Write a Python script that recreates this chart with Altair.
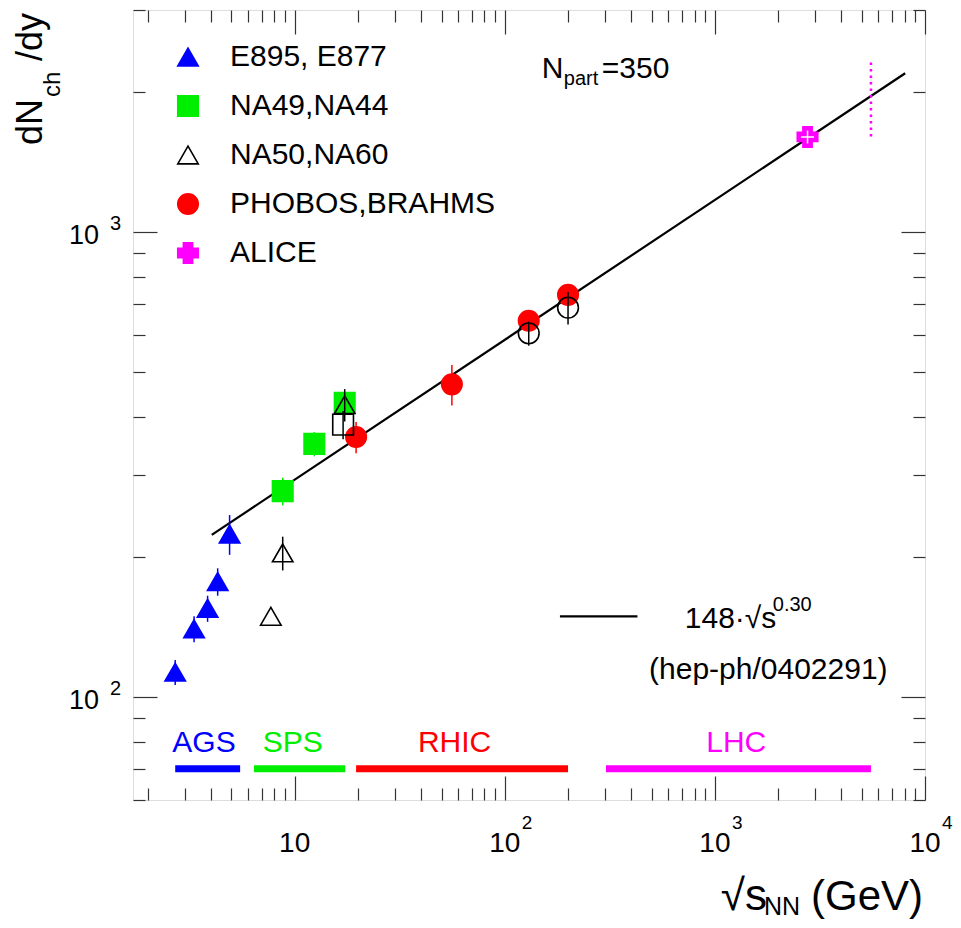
import altair as alt
import pandas as pd

W, H = 792, 790
FONT = "Liberation Sans"

# E895, E877 (AGS)
AGS_X = [2.7, 3.32, 3.85, 4.3, 4.9]
AGS_Y = [113, 140, 155, 177, 224]
AGS_ERR = [7, 9, 10, 12, 22]
# NA49, NA44 (SPS)
SPS_X = [8.77, 12.4, 17.3]
SPS_Y = [277, 350, 429]
SPS_ERR = [19, 21, 15]
# NA50, NA60 (open triangles)
NA50_X = [7.7, 8.77, 17.3]
NA50_Y = [149, 204, 425]
NA50_ERR = [0, 17, 34]
# PHOBOS, BRAHMS (RHIC)
RHIC_X = [19.6, 56, 130, 200]
RHIC_Y = [362, 470, 644, 732]
RHIC_ERR = [28, 47, 30, 40]
# ALICE
ALICE_X = [2760]
ALICE_Y = [1600]
ALICE_ERR = [0]
# unlabelled open markers
OPEN_SQ_X = [17.0]
OPEN_SQ_Y = [385]
OPEN_SQ_ERR = [27]
OPEN_CIRC_X = [130, 200]
OPEN_CIRC_Y = [605, 687]
OPEN_CIRC_ERR = [36, 55]

# 148 * sqrt(s)^0.30 line, end points
FIT_X = [4.03, 8050]
FIT_Y = [223, 2193]
# dotted LHC design-energy marker
LHC_MARK_X = [5530]
LHC_MARK_LO = [1603]
LHC_MARK_HI = [2352]

REGION_NAMES = ["AGS", "SPS", "RHIC", "LHC"]
REGION_LO = [2.7, 6.4, 19.6, 303]
REGION_HI = [5.5, 17.4, 200, 5530]
REGION_Y = [70, 70, 70, 70]
REGION_LABEL_X = [3.7, 9.8, 57.7, 1263]
REGION_LABEL_Y = [76, 76, 76, 76]
REGION_COLORS = ["#0000ff", "#00ee00", "#ff0000", "#ff00ff"]

X_TICKS = [2, 3, 4, 5, 6, 7, 8, 9, 10, 20, 30, 40, 50, 60, 70, 80, 90,
           100, 200, 300, 400, 500, 600, 700, 800, 900,
           1000, 2000, 3000, 4000, 5000, 6000, 7000, 8000, 9000, 10000]
Y_TICKS = [60, 70, 80, 90, 100, 200, 300, 400, 500, 600, 700, 800, 900,
           1000, 2000, 3000]
X_LABEL_AT = [10, 100, 1000, 10000]
X_LABEL_EXP = ["", "2", "3", "4"]
Y_LABEL_AT = [100, 1000]
Y_LABEL_EXP = ["2", "3"]

SERIES = ["E895, E877", "NA49,NA44", "NA50,NA60", "PHOBOS,BRAHMS", "ALICE"]
CROSS = "M-0.45,-1H0.45V-0.45H1V0.45H0.45V1H-0.45V0.45H-1V-0.45H-0.45Z"
SHAPES = ["triangle-up", "square", "triangle-up", "circle", CROSS]
FILLS = ["#0000ff", "#00ee00", "transparent", "#ff0000", "#ff00ff"]
STROKES = ["#0000ff", "#00ee00", "black", "#ff0000", "#ff00ff"]
SIZES = [420, 420, 450, 420, 700]


def _rows(name, xs, ys, errs, color):
    return pd.DataFrame({
        "series": name, "x": xs, "y": ys,
        "lo": [y - e for y, e in zip(ys, errs)],
        "hi": [y + e for y, e in zip(ys, errs)],
        "ecolor": color,
    })


points = pd.concat([
    _rows(SERIES[0], AGS_X, AGS_Y, AGS_ERR, STROKES[0]),
    _rows(SERIES[1], SPS_X, SPS_Y, SPS_ERR, STROKES[1]),
    _rows(SERIES[2], NA50_X, NA50_Y, NA50_ERR, STROKES[2]),
    _rows(SERIES[3], RHIC_X, RHIC_Y, RHIC_ERR, STROKES[3]),
    _rows(SERIES[4], ALICE_X, ALICE_Y, ALICE_ERR, STROKES[4]),
], ignore_index=True)

extras = pd.concat([
    _rows("square", OPEN_SQ_X, OPEN_SQ_Y, OPEN_SQ_ERR, "black"),
    _rows("circle", OPEN_CIRC_X, OPEN_CIRC_Y, OPEN_CIRC_ERR, "black"),
], ignore_index=True).rename(columns={"series": "kind"})

MAJOR = "abs(log(datum.value) / LN10 - round(log(datum.value) / LN10)) < 0.001"
X_SCALE = alt.Scale(type="log", domain=[1.7, 10000], nice=False)
Y_SCALE = alt.Scale(type="log", domain=[60, 3000], nice=False)


def frame_axis(orient, values):
    # ROOT-like inward ticks: the axis is pushed across the plot by a negative offset
    across = H if orient in ("top", "bottom") else W
    return alt.Axis(
        orient=orient, offset=-across, values=values, labels=False,
        domain=False, grid=False, title=None, tickColor="#333",
        tickWidth=1.2,
        tickSize={"condition": {"test": MAJOR, "value": 24}, "value": 12},
    )


NOAX_X = dict(scale=X_SCALE, axis=None)
NOAX_Y = dict(scale=Y_SCALE, axis=None)

fit = alt.Chart(pd.DataFrame({"x": FIT_X, "y": FIT_Y})).mark_line(
    color="black", strokeWidth=2.2
).encode(
    x=alt.X("x:Q", scale=X_SCALE, axis=frame_axis("bottom", X_TICKS)),
    y=alt.Y("y:Q", scale=Y_SCALE, axis=frame_axis("left", Y_TICKS)),
)

lhc_mark = alt.Chart(pd.DataFrame({
    "x": LHC_MARK_X, "lo": LHC_MARK_LO, "hi": LHC_MARK_HI,
})).mark_rule(color="#ff00ff", strokeWidth=2.5, strokeDash=[2.5, 4]).encode(
    x=alt.X("x:Q", **NOAX_X), y=alt.Y("lo:Q", **NOAX_Y), y2="hi:Q",
)

regions = pd.DataFrame({
    "name": REGION_NAMES, "lo": REGION_LO, "hi": REGION_HI, "y": REGION_Y,
    "lx": REGION_LABEL_X, "ly": REGION_LABEL_Y, "color": REGION_COLORS,
})
region_bars = alt.Chart(regions).mark_rule(strokeWidth=7, strokeCap="butt").encode(
    x=alt.X("lo:Q", **NOAX_X), x2="hi:Q", y=alt.Y("y:Q", **NOAX_Y),
    color=alt.Color("color:N", scale=None),
)
region_text = alt.Chart(regions).mark_text(
    fontSize=30, align="center", baseline="alphabetic", font=FONT
).encode(
    x=alt.X("lx:Q", **NOAX_X), y=alt.Y("ly:Q", **NOAX_Y), text="name:N",
    color=alt.Color("color:N", scale=None),
)

# one legend shared by shape, fill, stroke and size (all keyed on series)
legend = alt.Legend(
    title=None, orient="none", legendX=40, legendY=32, padding=0,
    labelFont=FONT, labelFontSize=30, labelColor="black", labelOffset=27,
    labelLimit=400, rowPadding=19, symbolStrokeWidth=1.6, symbolOpacity=1,
)
markers = alt.Chart(points).mark_point(opacity=1, strokeWidth=1.6).encode(
    x=alt.X("x:Q", scale=X_SCALE, axis=frame_axis("top", X_TICKS)),
    y=alt.Y("y:Q", scale=Y_SCALE, axis=frame_axis("right", Y_TICKS)),
    shape=alt.Shape("series:N", scale=alt.Scale(domain=SERIES, range=SHAPES), legend=legend),
    fill=alt.Fill("series:N", scale=alt.Scale(domain=SERIES, range=FILLS), legend=legend),
    stroke=alt.Stroke("series:N", scale=alt.Scale(domain=SERIES, range=STROKES), legend=legend),
    size=alt.Size("series:N", scale=alt.Scale(domain=SERIES, range=SIZES), legend=legend),
)
alice_inner = alt.Chart(points).transform_filter(
    alt.datum.series == "ALICE"
).mark_point(shape="M-1,0H1M0,-1V1", color="white", strokeWidth=1.5,
             size=170, opacity=1).encode(
    x=alt.X("x:Q", **NOAX_X), y=alt.Y("y:Q", **NOAX_Y),
)
open_extra = alt.Chart(extras).mark_point(
    color="black", strokeWidth=1.6, size=430, opacity=1
).encode(
    x=alt.X("x:Q", **NOAX_X), y=alt.Y("y:Q", **NOAX_Y),
    shape=alt.Shape("kind:N", scale=None),
)
error_rows = pd.concat([points[["x", "lo", "hi", "ecolor"]],
                        extras[["x", "lo", "hi", "ecolor"]]], ignore_index=True)
errors = alt.Chart(error_rows).mark_rule(strokeWidth=1.5).encode(
    x=alt.X("x:Q", **NOAX_X), y=alt.Y("lo:Q", **NOAX_Y), y2="hi:Q",
    color=alt.Color("ecolor:N", scale=None),
)

# formula key and annotations, placed in data coordinates
key_line = alt.Chart(pd.DataFrame({"x": [183, 428], "y": [149, 149]})).mark_line(
    color="black", strokeWidth=2.2
).encode(x=alt.X("x:Q", **NOAX_X), y=alt.Y("y:Q", **NOAX_Y))


def label(x, y, text, size, dx=0, dy=0, align="left"):
    return alt.Chart(pd.DataFrame({"x": [x], "y": [y], "t": [text]})).mark_text(
        fontSize=size, align=align, baseline="alphabetic", dx=dx, dy=dy,
        font=FONT, color="black",
    ).encode(x=alt.X("x:Q", **NOAX_X), y=alt.Y("y:Q", **NOAX_Y), text="t:N")


notes = [
    label(150, 2147, "N", 30),
    label(150, 2147, "part", 20, dx=22, dy=7),
    label(150, 2147, "=350", 30, dx=60),
    label(719, 140.5, "148·√s", 30),
    label(719, 140.5, "0.30", 20, dx=88, dy=-17),
    label(486, 109, "(hep-ph/0402291)", 30),
]


def pixel_text(x, y, text, size, align="left", angle=0):
    return alt.Chart(pd.DataFrame({"t": [text]})).mark_text(
        fontSize=size, align=align, baseline="alphabetic", angle=angle,
        font=FONT, color="black",
    ).encode(x=alt.value(x), y=alt.value(y), text="t:N")


titles = [
    pixel_text(-91, 135, "dN", 36, angle=270),
    pixel_text(-73, 87, "ch", 24, angle=270),
    pixel_text(-91, 51, "/dy", 36, angle=270),
    pixel_text(634, H + 110, "√s", 44, align="right"),
    pixel_text(667, H + 115, "NN", 25, align="right"),
    pixel_text(W - 2, H + 110, "(GeV)", 42, align="right"),
]

xlab = pd.DataFrame({"v": X_LABEL_AT, "e": X_LABEL_EXP})
x_base = alt.Chart(xlab).mark_text(
    fontSize=28, align="center", baseline="alphabetic", font=FONT, color="black"
).encode(x=alt.X("v:Q", **NOAX_X), y=alt.value(H + 52), text=alt.value("10"))
x_exp = alt.Chart(xlab).mark_text(
    fontSize=19, align="left", baseline="alphabetic", dx=17, font=FONT, color="black"
).encode(x=alt.X("v:Q", **NOAX_X), y=alt.value(H + 29), text="e:N")

ylab = pd.DataFrame({"v": Y_LABEL_AT, "e": Y_LABEL_EXP})
y_base = alt.Chart(ylab).mark_text(
    fontSize=27, align="right", baseline="alphabetic", dy=12, font=FONT, color="black"
).encode(x=alt.value(-34), y=alt.Y("v:Q", **NOAX_Y), text=alt.value("10"))
y_exp = alt.Chart(ylab).mark_text(
    fontSize=20, align="left", baseline="alphabetic", dy=-2, font=FONT, color="black"
).encode(x=alt.value(-23), y=alt.Y("v:Q", **NOAX_Y), text="e:N")

chart = alt.layer(
    fit, lhc_mark, region_bars, region_text, markers, alice_inner, open_extra,
    errors, key_line, *notes, *titles, x_base, x_exp, y_base, y_exp,
).resolve_axis(x="independent", y="independent").properties(
    width=W, height=H, autosize=alt.AutoSizeParams(type="none"),
    padding={"left": 125, "top": 2, "right": 28, "bottom": 120},
).configure_view(stroke="black", strokeWidth=2).configure(font=FONT)

chart.save("out.html", embed_options={"renderer": "svg", "actions": False})
